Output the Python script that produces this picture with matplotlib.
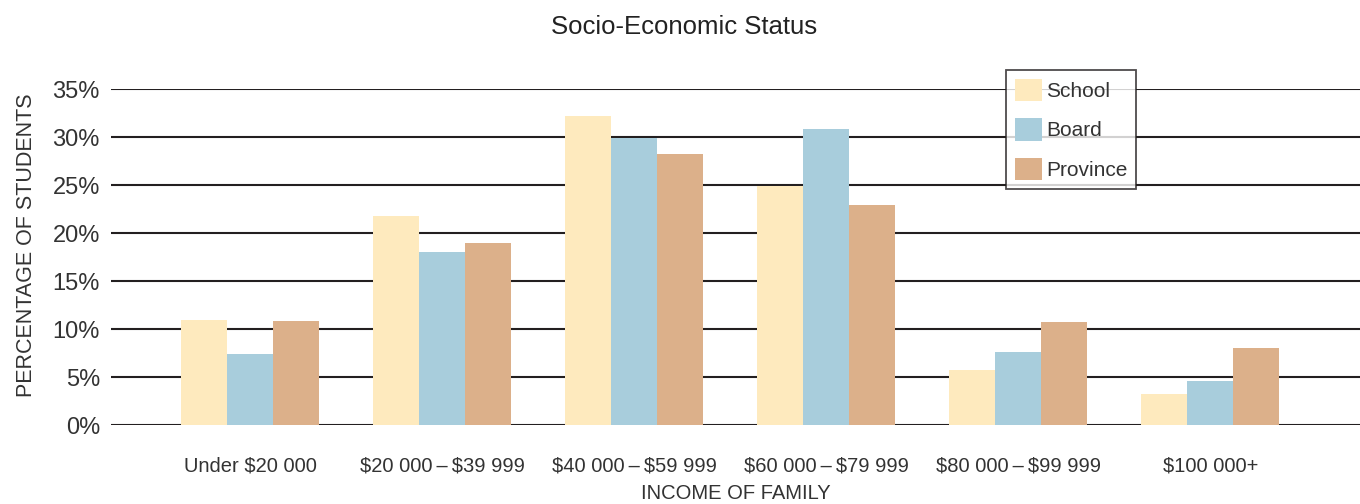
import matplotlib
matplotlib.use("Agg")
import matplotlib.pyplot as plt
import numpy as np

categories = ["Under $20 000", "$20 000\u2009–\u2009$39 999", "$40 000\u2009–\u2009$59 999",
              "$60 000\u2009–\u2009$79 999", "$80 000\u2009–\u2009$99 999", "$100 000+"]
school = [10.9, 21.8, 32.2, 24.9, 5.7, 3.2]
board = [7.4, 18.0, 29.9, 30.8, 7.6, 4.6]
province = [10.8, 19.0, 28.2, 22.9, 10.7, 8.0]
yticks = [0, 5, 10, 15, 20, 25, 30, 35]
ytick_labels = ["0%", "5%", "10%", "15%", "20%", "25%", "30%", "35%"]

series = [("School", school, "#feeabe"), ("Board", board, "#a8cddc"),
          ("Province", province, "#dcb08a")]

plt.rcParams['font.family'] = ['Liberation Sans', 'DejaVu Sans']
plt.rcParams['text.parse_math'] = False

W, H = 1360, 504
fig = plt.figure(figsize=(W / 100, H / 100), dpi=100)
ax = fig.add_axes([111 / W, (H - 425) / H, (W - 111) / W, (425 - 89) / H])

x = np.arange(len(categories))
bw = 0.24
for i, (name, vals, col) in enumerate(series):
    ax.bar(x + (i - 1) * bw, vals, width=bw, color=col, label=name, zorder=3,
           linewidth=0)

for y in yticks:
    ax.axhline(y, color="#231f20", lw=1.5, zorder=1)

ax.set_xlim(-0.724, 5.78)
ax.set_ylim(0, 35)
for s in ax.spines.values():
    s.set_visible(False)
ax.set_yticks(yticks)
ax.set_yticklabels(ytick_labels, fontsize=17, color="#333333")
ax.tick_params(axis="y", length=0, pad=8)
ax.set_xticks(x)
ax.set_xticklabels(categories, fontsize=14.5, color="#333333")
ax.tick_params(axis="x", length=0, pad=23)

ax.set_xlabel("INCOME OF FAMILY", fontsize=14.5, color="#333333", labelpad=6)
fig.text(27 / W, (H - 245) / H, "PERCENTAGE OF STUDENTS", rotation=90,
         fontsize=15.5, color="#333333", ha="center", va="center")
fig.text(684 / W, (H - 27) / H, "Socio-Economic Status", fontsize=18.5,
         color="#222222", ha="center", va="center")

leg = ax.legend(loc="upper left", bbox_to_anchor=((1006 - 111) / (W - 111), (425 - 70) / 336),
                borderaxespad=0, frameon=True, fancybox=False, fontsize=15,
                handlelength=1.3, handleheight=1.3, labelspacing=0.8,
                handletextpad=0.2, borderpad=0.42)
leg.get_frame().set_edgecolor("#231f20")
leg.get_frame().set_linewidth(1.3)
leg.set_zorder(5)
for t in leg.get_texts():
    t.set_color("#333333")

fig.savefig("out.png", dpi=100)
